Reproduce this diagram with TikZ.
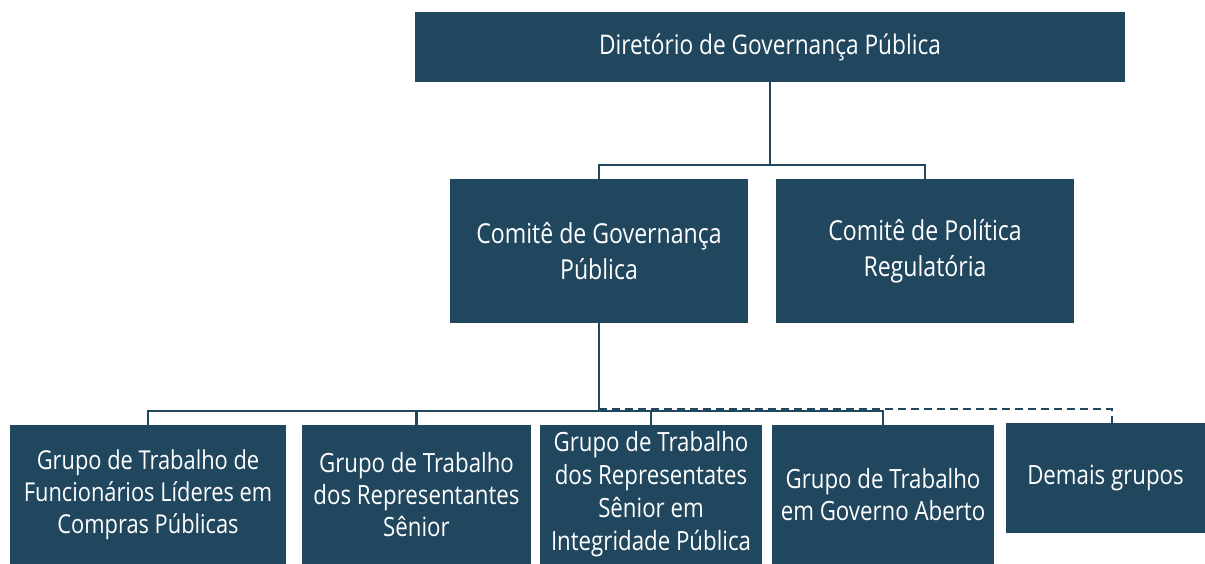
\documentclass[tikz,border=0pt]{standalone}
\usepackage{fontspec}
\setmainfont{Open Sans}[FakeStretch=0.84]
\definecolor{navy}{HTML}{21475F}
\begin{document}
\begin{tikzpicture}[x=1pt,y=-1pt,
  box/.style={fill=navy,text=white,inner sep=0pt,align=center,anchor=center},
  link/.style={draw=navy,line width=2.8pt},
  dlink/.style={draw=navy,line width=2.4pt,dash pattern=on 8pt off 5pt}]
\useasboundingbox (0,0) rectangle (1205,564);
\node[box,minimum width=710pt,minimum height=70pt,font=\fontsize{27}{33}\selectfont] (top) at (770,47) {Diretório de Governança Pública};
\node[box,minimum width=298pt,minimum height=144pt,font=\fontsize{27.5}{36}\selectfont] (cgp) at (599,251) {Comitê de Governança\\Pública};
\node[box,minimum width=298pt,minimum height=144pt,font=\fontsize{27.5}{36}\selectfont] (cpr) at (925,251) {Comitê de Política\\Regulatória};
\node[box,minimum width=276pt,minimum height=139pt,font=\fontsize{26}{32}\selectfont] (g1) at (148,494.5) {Grupo de Trabalho de\\Funcionários Líderes em\\Compras Públicas};
\node[box,minimum width=229pt,minimum height=139pt,font=\fontsize{26.5}{32}\selectfont] (g2) at (416.5,494.5) {Grupo de Trabalho\\dos Representantes\\Sênior};
\node[box,minimum width=222pt,minimum height=139pt,font=\fontsize{26.5}{33}\selectfont] (g3) at (651,494.5) {Grupo de Trabalho\\dos Representates\\Sênior em\\Integridade Pública};
\node[box,minimum width=222pt,minimum height=139pt,font=\fontsize{26.5}{32}\selectfont] (g4) at (883,494.5) {Grupo de Trabalho\\em Governo Aberto};
\node[box,minimum width=199pt,minimum height=110pt,font=\fontsize{26.5}{32}\selectfont] (g5) at (1105.5,478) {Demais grupos};
\coordinate (h1) at (770,165);
\coordinate (h2) at (599,411);
\coordinate (hd) at (599,409);
\coordinate (d5) at (1112,423);
\draw[link] (top.south) -- (h1);
\draw[link] (cgp.north) |- (h1) -| (cpr.north);
\draw[dlink] (hd) -| (d5);
\draw[link] (cgp.south) -- (h2);
\draw[link] (g1.north) |- (g4.north |- h2) -- (g4.north);
\draw[link] (g2.north) -- (g2.north |- h2);
\draw[link] (g3.north) -- (g3.north |- h2);
\end{tikzpicture}
\end{document}
